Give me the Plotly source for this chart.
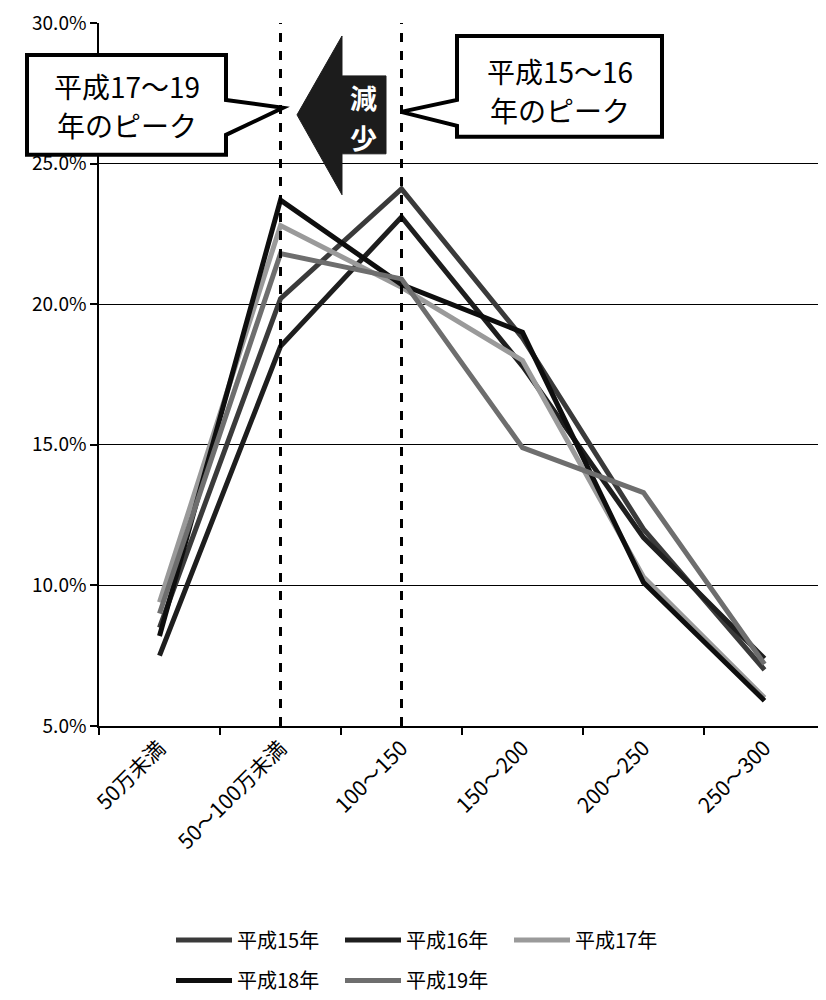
import plotly.graph_objects as go

categories = ["50万未満", "50～100万未満", "100～150", "150～200", "200～250", "250～300"]
series_names = ["平成15年", "平成16年", "平成17年", "平成18年", "平成19年"]
h15 = [8.5, 20.2, 24.1, 18.8, 12.0, 7.0]
h16 = [7.5, 18.5, 23.1, 17.8, 11.7, 7.4]
h17 = [9.4, 22.8, 20.6, 18.0, 10.3, 6.0]
h18 = [8.2, 23.7, 20.7, 19.0, 10.1, 5.9]
h19 = [9.0, 21.8, 20.9, 14.9, 13.3, 7.2]
yticks = [5, 10, 15, 20, 25, 30]
ytick_text = ["5.0%", "10.0%", "15.0%", "20.0%", "25.0%", "30.0%"]

values = [h15, h16, h17, h18, h19]
colors = ["#3a3a3a", "#1e1e1e", "#9a9a9a", "#0e0e0e", "#6e6e6e"]
legends = ["legend", "legend", "legend", "legend2", "legend2"]

# page body has an 8px margin; work in reference-pixel coordinates and offset
OFF = 8
W, H = 826 - OFF, 1000 - OFF
PLOT_L, PLOT_R, PLOT_T, PLOT_B = 99, 825, 23, 727  # reference pixels
L = PLOT_L - OFF
T = PLOT_T - OFF
R = W - (PLOT_R - OFF)
B = H - (PLOT_B - OFF)
PW = PLOT_R - PLOT_L
PH = PLOT_B - PLOT_T

def px(x):
    return (x - PLOT_L) / PW

def py(y):
    return (PLOT_B - y) / PH

FONT = "Noto Sans CJK JP"

fig = go.Figure()
for name, vals, col, lg in zip(series_names, values, colors, legends):
    fig.add_trace(go.Scatter(
        x=categories, y=vals, mode="lines", name=name,
        line=dict(color=col, width=5), legend=lg,
    ))

def path(points):
    return "M " + " L ".join(f"{px(a):.5f},{py(b):.5f}" for a, b in points) + " Z"

shapes = []
for xi in [1, 2]:
    shapes.append(dict(type="line", xref="x", yref="y", x0=xi, x1=xi, y0=5, y1=30,
                       line=dict(color="black", width=3, dash="dash"), layer="above"))
shapes.append(dict(type="path", xref="paper", yref="paper",
                   path=path([(27, 55), (226, 55), (226, 100), (283, 108), (226, 135),
                              (226, 155), (27, 155)]),
                   fillcolor="white", line=dict(color="black", width=4), layer="above"))
shapes.append(dict(type="path", xref="paper", yref="paper",
                   path=path([(457, 36), (662, 36), (662, 137), (457, 137), (457, 126),
                              (401, 112), (457, 100)]),
                   fillcolor="white", line=dict(color="black", width=4), layer="above"))
shapes.append(dict(type="path", xref="paper", yref="paper",
                   path=path([(297, 115), (342, 36), (342, 76), (386, 76), (386, 154),
                              (342, 154), (342, 195)]),
                   fillcolor="#1c1c1c", line=dict(color="#1c1c1c", width=1), layer="above"))

annotations = []
def txt(x, y, s, size, color="black", bold=False):
    annotations.append(dict(xref="paper", yref="paper", x=px(x), y=py(y),
                            text=("<b>%s</b>" % s) if bold else s, showarrow=False,
                            xanchor="center", yanchor="middle", align="center",
                            font=dict(family=FONT, size=size, color=color)))

txt(127, 86, "平成17～19", 28)
txt(127, 125, "年のピーク", 28)
txt(560, 71, "平成15～16", 28)
txt(560, 110, "年のピーク", 28)
txt(363, 98, "減", 27, "white", True)
txt(363, 138, "少", 27, "white", True)

legend_common = dict(orientation="h", xanchor="left", yanchor="middle",
                     font=dict(family=FONT, size=20), itemwidth=56,
                     entrywidth=98, entrywidthmode="pixels", bgcolor="rgba(0,0,0,0)")
fig.update_layout(
    width=W, height=H,
    margin=dict(l=L, r=R, t=T, b=B),
    paper_bgcolor="white", plot_bgcolor="white",
    font=dict(family=FONT, color="black"),
    shapes=shapes, annotations=annotations,
    legend=dict(x=px(171), y=py(940), **legend_common),
    legend2=dict(x=px(171), y=py(981), **legend_common),
)
fig.update_xaxes(type="category", categoryorder="array", categoryarray=categories,
                 range=[-0.5, 5.5], tickson="boundaries", ticks="outside", ticklen=7,
                 tickcolor="black", tickwidth=1.5, showline=True, linecolor="black",
                 linewidth=1.5, tickangle=-45, showgrid=False,
                 tickfont=dict(family=FONT, size=21, color="black"))
fig.update_yaxes(range=[5, 30], tickvals=yticks, ticktext=ytick_text, ticks="outside",
                 ticklen=7, tickcolor="black", tickwidth=1.5, showline=True,
                 linecolor="black", linewidth=1.5, showgrid=True, gridcolor="black",
                 gridwidth=1.2, zeroline=False, ticklabeloverflow="allow",
                 tickfont=dict(family=FONT, size=19, color="black"))

fig.write_html("out.html")
